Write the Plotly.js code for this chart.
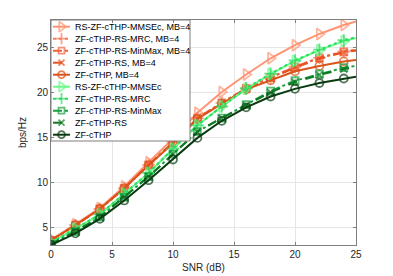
<!DOCTYPE html>
<html><head><meta charset="utf-8">
<script src="https://cdn.plot.ly/plotly-3.0.1.min.js"></script>
<style>html,body{margin:0;padding:0;background:#fff}#chart{width:393px;height:276px}</style>
</head><body><div id="chart"></div>
<script>
// SNR sample points (dB)
const snr = [0, 2, 4, 6, 8, 10, 12, 14, 16, 18, 20, 22, 24, 25];

const seriesNames = [
  'RS-ZF-cTHP-MMSEc, MB=4',
  'ZF-cTHP-RS-MRC, MB=4',
  'ZF-cTHP-RS-MinMax, MB=4',
  'ZF-cTHP-RS, MB=4',
  'ZF-cTHP, MB=4',
  'RS-ZF-cTHP-MMSEc',
  'ZF-cTHP-RS-MRC',
  'ZF-cTHP-RS-MinMax',
  'ZF-cTHP-RS',
  'ZF-cTHP'
];

// spectral efficiency (bps/Hz)
const rsMmsecMB4   = [3.6, 5.3, 7.1, 9.5, 12.2, 14.8, 17.7, 20.0, 21.95, 23.75, 25.2, 26.45, 27.45, 27.85];
const rsMrcMB4     = [3.5, 5.2, 7.0, 9.3, 11.9, 14.4, 17.1, 18.8, 20.4, 21.6, 22.8, 23.8, 24.5, 24.7];
const rsMinMaxMB4  = [3.5, 5.2, 7.0, 9.3, 11.9, 14.4, 17.1, 18.8, 20.4, 21.6, 22.8, 23.8, 24.45, 24.65];
const rsMB4        = [3.5, 5.2, 7.0, 9.3, 11.9, 14.35, 17.05, 18.75, 20.35, 21.5, 22.7, 23.7, 24.4, 24.6];
const zfMB4        = [3.5, 5.2, 7.0, 9.3, 11.85, 14.3, 17.0, 18.7, 20.3, 21.3, 22.3, 22.9, 23.4, 23.55];
const rsMmsec      = [3.3, 4.8, 6.4, 8.7, 11.0, 13.7, 16.3, 18.4, 20.35, 22.0, 23.45, 24.65, 25.65, 26.0];
const rsMrc        = [3.3, 4.8, 6.4, 8.7, 11.0, 13.7, 16.3, 18.4, 20.4, 22.05, 23.5, 24.7, 25.75, 26.1];
const rsMinMax     = [3.1, 4.5, 6.1, 8.3, 10.6, 13.1, 15.6, 17.1, 18.6, 20.1, 21.25, 22.0, 22.7, 22.9];
const rsPlain      = [3.1, 4.5, 6.1, 8.3, 10.6, 13.1, 15.6, 17.1, 18.5, 19.95, 21.1, 21.9, 22.55, 22.75];
const zfPlain      = [3.0, 4.3, 5.9, 7.95, 10.2, 12.5, 14.9, 16.8, 18.3, 19.5, 20.35, 21.0, 21.5, 21.7];

const seriesValues = [rsMmsecMB4, rsMrcMB4, rsMinMaxMB4, rsMB4, zfMB4, rsMmsec, rsMrc, rsMinMax, rsPlain, zfPlain];

const styles = [
  {color:'#ff9473', dash:'solid',   symbol:'triangle-right-open', size:10},
  {color:'#ff7a55', dash:'dot',     symbol:'cross-thin-open',     size:9},
  {color:'#f2603a', dash:'dashdot', symbol:'square-open',         size:7},
  {color:'#e85020', dash:'dash',    symbol:'x-thin-open',         size:7},
  {color:'#d9541a', dash:'solid',   symbol:'circle-open',         size:8},
  {color:'#66fa86', dash:'solid',   symbol:'triangle-right-open', size:10},
  {color:'#2bdc60', dash:'dot',     symbol:'cross-thin-open',     size:9},
  {color:'#14a03d', dash:'dashdot', symbol:'square-open',         size:7},
  {color:'#117823', dash:'dash',    symbol:'x-thin-open',         size:7},
  {color:'#093a10', dash:'solid',   symbol:'circle-open',         size:8}
];

const traces = [];
seriesValues.forEach((vals, i) => {
  const st = styles[i];
  traces.push({
    x: snr, y: vals, type:'scatter', mode:'lines+markers', name: seriesNames[i],
    line:{color:st.color, width:2, dash:st.dash},
    marker:{symbol:st.symbol, size: snr.map((s, k) => k === snr.length - 1 ? 0 : st.size),
            color:st.color, line:{color:st.color, width:1.8}},
    showlegend:false, hoverinfo:'skip'
  });
});

// custom compact legend on an overlay axis measured in pixels from plot top-left
const boxW = 139, boxH = 121, rowTop = 6.7, rowStep = 12;
traces.push({
  x:[0, boxW, boxW, 0, 0], y:[0, 0, boxH, boxH, 0], xaxis:'x2', yaxis:'y2',
  type:'scatter', mode:'lines', fill:'toself', fillcolor:'#ffffff',
  line:{color:'#7f7f7f', width:1}, showlegend:false, hoverinfo:'skip'
});
const annotations = [];
seriesNames.forEach((nm, i) => {
  const st = styles[i];
  const yy = rowTop + rowStep * i;
  traces.push({
    x:[2, 10.5, 19], y:[yy, yy, yy], xaxis:'x2', yaxis:'y2', type:'scatter', mode:'lines+markers',
    line:{color:st.color, width:2, dash:st.dash},
    marker:{symbol:st.symbol, size:[0, st.size - 1, 0], color:st.color, line:{color:st.color, width:1.8}},
    showlegend:false, hoverinfo:'skip'
  });
  annotations.push({
    x:22, y:yy, xref:'x2', yref:'y2', text:nm, showarrow:false, xanchor:'left', yanchor:'middle',
    font:{family:'Liberation Sans, Arial, sans-serif', size:9, color:'#000'}
  });
});

const axisCommon = {
  showgrid:true, gridcolor:'#e6e6e6', gridwidth:1, zeroline:false,
  showline:true, linecolor:'#7f7f7f', linewidth:1, mirror:'ticks',
  ticks:'inside', ticklen:3, tickcolor:'#7f7f7f',
  tickfont:{family:'Liberation Sans, Arial, sans-serif', size:10, color:'#262626'}
};

const layout = {
  width:393, height:276,
  margin:{l:51, r:37, t:20, b:31, pad:0},
  paper_bgcolor:'#ffffff', plot_bgcolor:'#ffffff',
  showlegend:false,
  xaxis: Object.assign({}, axisCommon, {
    range:[0, 25], tickvals:[0, 5, 10, 15, 20, 25],
    title:{text:'SNR (dB)', font:{family:'Liberation Sans, Arial, sans-serif', size:10, color:'#262626'}, standoff:4}
  }),
  yaxis: Object.assign({}, axisCommon, {
    range:[3, 28], tickvals:[5, 10, 15, 20, 25],
    title:{text:'bps/Hz', font:{family:'Liberation Sans, Arial, sans-serif', size:10, color:'#262626'}, standoff:8}
  }),
  xaxis2:{overlaying:'x', anchor:'y2', range:[0, 305], visible:false, fixedrange:true},
  yaxis2:{overlaying:'y', anchor:'x2', range:[225, 0], visible:false, fixedrange:true},
  annotations: annotations
};

Plotly.newPlot('chart', traces, layout, {staticPlot:true, displayModeBar:false});
</script>
</body></html>
